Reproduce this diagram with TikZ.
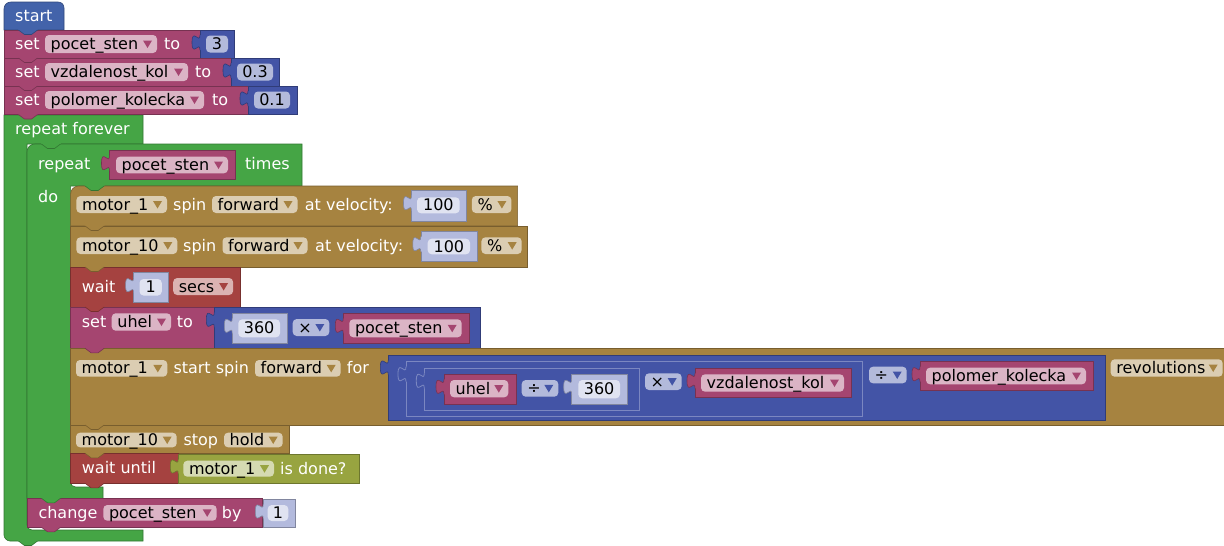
\documentclass[tikz,border=0pt]{standalone}
\usepackage{fontspec}
\setmainfont{DejaVu Sans}
\definecolor{cstart}{RGB}{67,99,170}
\definecolor{cvar}{RGB}{165,69,112}
\definecolor{cloop}{RGB}{69,165,69}
\definecolor{cmotor}{RGB}{166,131,64}
\definecolor{cwait}{RGB}{165,66,64}
\definecolor{cmath}{RGB}{67,84,166}
\definecolor{cshadow}{RGB}{179,186,221}
\definecolor{cbool}{RGB}{152,164,64}
\newcommand\fs{\fontsize{16}{19}\selectfont}
\tikzset{
  blk/.style={fill=#1, draw=#1!72!black, line width=0.6pt},
  nest/.style={fill=#1, draw=#1!70!white, line width=0.8pt},
  lbl/.style={anchor=base west, inner sep=0pt, text=white, font=\fs},
  ftx/.style={anchor=base west, inner sep=0pt, text=black, font=\fs},
  ntx/.style={anchor=base, inner sep=0pt, text=black, font=\fs},
  fbox/.style={fill=white, fill opacity=0.6, rounded corners=4pt},
}
\newcommand\Lb[3]{\node[lbl] at ({#1},{#2+5.5}) {#3};}
\newcommand\Dd[6]{%
  \path[fbox] ({#1},{#2}) rectangle ({#3},{#4});
  \node[ftx] at ({#1+5.5},{(#2+#4)/2+5.5}) {#5};
  \fill[#6] ({#3-14},{(#2+#4)/2-3.5}) -- ({#3-5},{(#2+#4)/2-3.5}) -- ({#3-9.5},{(#2+#4)/2+4}) -- cycle;}
\newcommand\Nf[5]{%
  \path[fbox] ({#1},{#2}) rectangle ({#3},{#4});
  \node[ntx] at ({(#1+#3)/2},{(#2+#4)/2+5.5}) {#5};}
\newcommand\Vt[3]{%
  \path[fill=#3] ({#1+1},{#2+5}) -- ({#1},{#2+5}) .. controls ({#1},{#2+15}) and ({#1-8},{#2-3}) .. ({#1-8},{#2+12.5}) .. controls ({#1-8},{#2+28}) and ({#1},{#2+10}) .. ({#1},{#2+20}) -- ({#1+1},{#2+20}) -- cycle;
  \draw[#3!72!black, line width=0.6pt] ({#1},{#2+5}) .. controls ({#1},{#2+15}) and ({#1-8},{#2-3}) .. ({#1-8},{#2+12.5}) .. controls ({#1-8},{#2+28}) and ({#1},{#2+10}) .. ({#1},{#2+20});}
\newcommand\Vto[3]{%
  \path[fill=#3] ({#1+1},{#2+5}) -- ({#1},{#2+5}) .. controls ({#1},{#2+15}) and ({#1-8},{#2-3}) .. ({#1-8},{#2+12.5}) .. controls ({#1-8},{#2+28}) and ({#1},{#2+10}) .. ({#1},{#2+20}) -- ({#1+1},{#2+20}) -- cycle;
  \draw[#3!70!white, line width=0.8pt] ({#1},{#2+5}) .. controls ({#1},{#2+15}) and ({#1-8},{#2-3}) .. ({#1-8},{#2+12.5}) .. controls ({#1-8},{#2+28}) and ({#1},{#2+10}) .. ({#1},{#2+20});}
\newcommand\Nt[3]{%
  \path[fill=#3] ({#1+14},{#2-0.8}) -- ({#1+14.5},{#2}) -- ({#1+20.5},{#2+4.5}) -- ({#1+27.5},{#2+4.5}) -- ({#1+33.5},{#2}) -- ({#1+34},{#2-0.8}) -- cycle;
  \draw[#3!72!black, line width=0.6pt] ({#1+14.5},{#2}) -- ({#1+20.5},{#2+4.5}) -- ({#1+27.5},{#2+4.5}) -- ({#1+33.5},{#2});}
\begin{document}
\begin{tikzpicture}[x=1pt,y=-1pt]
\useasboundingbox (0,0) rectangle (1224,546);
\fill[white] (0,0) rectangle (1224,546);

% repeat forever (outer C)
\path[blk=cloop] (4,115) -- (143,115) -- (143,144) -- (27,144) -- (27,525) .. controls (27,528) and (29,530) .. (32,530) -- (143,530) -- (143,541) -- (10,541) .. controls (7,541) and (4,538) .. (4,535) -- cycle;
% repeat n times (inner C)
\path[blk=cloop] (27,152) .. controls (27,147.5) and (30.5,144) .. (35,144) -- (302,144) -- (302,186) -- (70.6,186) -- (70.6,482) .. controls (70.6,485) and (72.6,487) .. (75.6,487) -- (103,487) -- (103,498.3) -- (27,498.3) -- cycle;

% start
\path[blk=cstart] (4,30) -- (4,9) .. controls (4,5) and (7,2) .. (11,2) -- (58,2) .. controls (61.5,2) and (64,4.5) .. (64,8) -- (64,30) -- cycle;
\Lb{15}{16}{start}

% set 1
\path[blk=cvar] (4,30) rectangle (200,58);
\Lb{15}{44}{set}
\Dd{45}{35}{157}{53}{pocet\_sten}{cvar}
\Lb{164}{44}{to}
\path[blk=cmath] (200,30) rectangle (234,58);
\Vt{200}{30}{cmath}
\Nf{206}{35.5}{228}{52.5}{3}

% set 2
\path[blk=cvar] (4,58) rectangle (231,86);
\Lb{15}{72}{set}
\Dd{45}{63}{188}{81}{vzdalenost\_kol}{cvar}
\Lb{195}{72}{to}
\path[blk=cmath] (231,58) rectangle (279,86);
\Vt{231}{58}{cmath}
\Nf{237}{63.5}{273}{80.5}{0.3}

% set 3
\path[blk=cvar] (4,86) rectangle (248,114.5);
\Lb{15}{100}{set}
\Dd{45}{91}{204}{109}{polomer\_kolecka}{cvar}
\Lb{212}{100}{to}
\path[blk=cmath] (248,86) rectangle (297,114.5);
\Vt{248}{86}{cmath}
\Nf{254}{91.5}{290}{108.5}{0.1}

\Lb{15}{129}{repeat forever}

% repeat n times header
\Lb{38}{164}{repeat}
\path[blk=cvar] (109.5,150.7) rectangle (235,179.3);
\Vt{109.5}{150.7}{cvar}
\Dd{116}{156.7}{228}{173.3}{pocet\_sten}{cvar}
\Lb{245}{164}{times}
\Lb{38}{197}{do}

% motor_1 spin
\path[blk=cmotor] (70.6,226) -- (70.6,194) .. controls (70.6,189.6) and (74.2,186) .. (78.6,186) -- (517.6,186) -- (517.6,226) -- cycle;
\Dd{76.4}{196}{167}{213}{motor\_1}{cmotor}
\Lb{173}{204.5}{spin}
\Dd{212}{196}{297.5}{213}{forward}{cmotor}
\Lb{304.7}{204.5}{at velocity:}
\path[blk=cshadow] (411.5,190.7) rectangle (466.6,221);
\Vt{411.5}{190.7}{cshadow}
\Nf{417}{197.3}{459.7}{213.3}{100}
\Dd{471.8}{196}{511.4}{213}{\%}{cmotor}

% motor_10 spin
\path[blk=cmotor] (70.6,226) rectangle (527.5,267);
\Dd{76.4}{237.3}{177.3}{254}{motor\_10}{cmotor}
\Lb{183}{245.7}{spin}
\Dd{222.5}{237.3}{307.5}{254}{forward}{cmotor}
\Lb{315}{245.7}{at velocity:}
\path[blk=cshadow] (420.8,231.7) rectangle (477,261.7);
\Vt{420.8}{231.7}{cshadow}
\Nf{427.7}{238.7}{470}{254.3}{100}
\Dd{481.4}{237.3}{521.7}{254}{\%}{cmotor}

% wait 1 secs
\path[blk=cwait] (70.6,267) rectangle (240,307);
\Lb{81.6}{286.7}{wait}
\path[blk=cshadow] (133.6,272.7) rectangle (168.7,302.7);
\Vt{133.6}{272.7}{cshadow}
\Nf{139.5}{279}{161.8}{295.5}{1}
\Dd{173.2}{278}{233.1}{295}{secs}{cwait}

% set uhel
\path[blk=cvar] (70.6,307) rectangle (214.3,348.3);
\Lb{81.7}{321.7}{set}
\Dd{111.7}{313.3}{171}{330.7}{uhel}{cvar}
\Lb{176.7}{321.7}{to}
\path[blk=cmath] (214.3,307.3) rectangle (480.7,348.3);
\Vt{214.3}{307.3}{cmath}
\path[blk=cshadow] (232.3,313.3) rectangle (287.7,343.3);
\Vt{232.3}{313.3}{cshadow}
\Nf{238.3}{319.3}{280}{337.3}{360}
\Dd{292.7}{319}{329.3}{336}{×}{cmath}
\path[blk=cvar] (343.3,313.3) rectangle (469.3,343.3);
\Vt{343.3}{313.3}{cvar}
\Dd{349.3}{319.3}{461.7}{337.3}{pocet\_sten}{cvar}

% motor_1 start spin for
\path[blk=cmotor] (70.6,348.3) rectangle (1226,425);
\Dd{76}{360}{167.3}{376.7}{motor\_1}{cmotor}
\Lb{173.3}{368.3}{start spin}
\Dd{255}{360}{340.7}{376.7}{forward}{cmotor}
\Lb{346.7}{368.3}{for}
\path[blk=cmath] (388.3,355) rectangle (1105,420.7);
\Vt{388.3}{355}{cmath}
\path[nest=cmath] (406,361.7) rectangle (862.7,416);
\Vto{406}{361.7}{cmath}
\path[nest=cmath] (424.3,368.3) rectangle (639.3,410);
\Vto{424.3}{368.3}{cmath}
\path[blk=cvar] (444,374.3) rectangle (516.7,404);
\Vt{444}{374.3}{cvar}
\Dd{450}{380}{508.3}{397.3}{uhel}{cvar}
\Dd{521.7}{380}{558.3}{396.7}{÷}{cmath}
\path[blk=cshadow] (571.7,374.3) rectangle (627.3,404);
\Vt{571.7}{374.3}{cshadow}
\Nf{578.3}{380}{620}{398.3}{360}
\Dd{645}{373.3}{681.7}{390}{×}{cmath}
\path[blk=cvar] (695,368.3) rectangle (851,397.3);
\Vt{695}{368.3}{cvar}
\Dd{701}{374.3}{844}{391.7}{vzdalenost\_kol}{cvar}
\Dd{869}{366.7}{906.7}{383.3}{÷}{cmath}
\path[blk=cvar] (920,361.7) rectangle (1093.3,390.7);
\Vt{920}{361.7}{cvar}
\Dd{926}{367.7}{1086}{384.3}{polomer\_kolecka}{cvar}
\Dd{1110.7}{359.3}{1222.7}{376.7}{revolutions}{cmotor}

% motor_10 stop hold
\path[blk=cmotor] (70.6,425) rectangle (289.3,453.3);
\Dd{76}{432.7}{176.7}{447.3}{motor\_10}{cmotor}
\Lb{183.3}{440}{stop}
\Dd{224}{432.7}{282.7}{447.3}{hold}{cmotor}

% wait until
\path[blk=cwait] (70.6,453.3) rectangle (178.3,483.3);
\Lb{81.7}{468.3}{wait until}
\path[blk=cbool] (178.3,454) rectangle (359.3,483.3);
\Vt{178.3}{454}{cbool}
\Dd{183.3}{460.7}{274}{476.7}{motor\_1}{cbool}
\Lb{280}{468.7}{is done?}

% change
\path[blk=cvar] (27,498.3) rectangle (262.7,527.3);
\Lb{38.3}{512.7}{change}
\Dd{103.3}{505}{216.7}{520.7}{pocet\_sten}{cvar}
\Lb{221.7}{512.7}{by}
\path[blk=cshadow] (263.3,499) rectangle (295.7,527.3);
\Vt{263.3}{499}{cshadow}
\Nf{267.7}{505}{288.3}{521}{1}

% statement connection tabs
\Nt{4}{30}{cstart}
\Nt{4}{58}{cvar}
\Nt{4}{86}{cvar}
\Nt{4}{114.5}{cvar}
\Nt{27}{144}{cloop}
\Nt{70.6}{186}{cloop}
\Nt{70.6}{226}{cmotor}
\Nt{70.6}{267}{cmotor}
\Nt{70.6}{307}{cwait}
\Nt{70.6}{348.3}{cvar}
\Nt{70.6}{425}{cmotor}
\Nt{70.6}{453.3}{cmotor}
\Nt{70.6}{483.3}{cwait}
\Nt{27}{498.3}{cloop}
\Nt{27}{527.3}{cvar}
\Nt{4}{541}{cloop}
\end{tikzpicture}
\end{document}
